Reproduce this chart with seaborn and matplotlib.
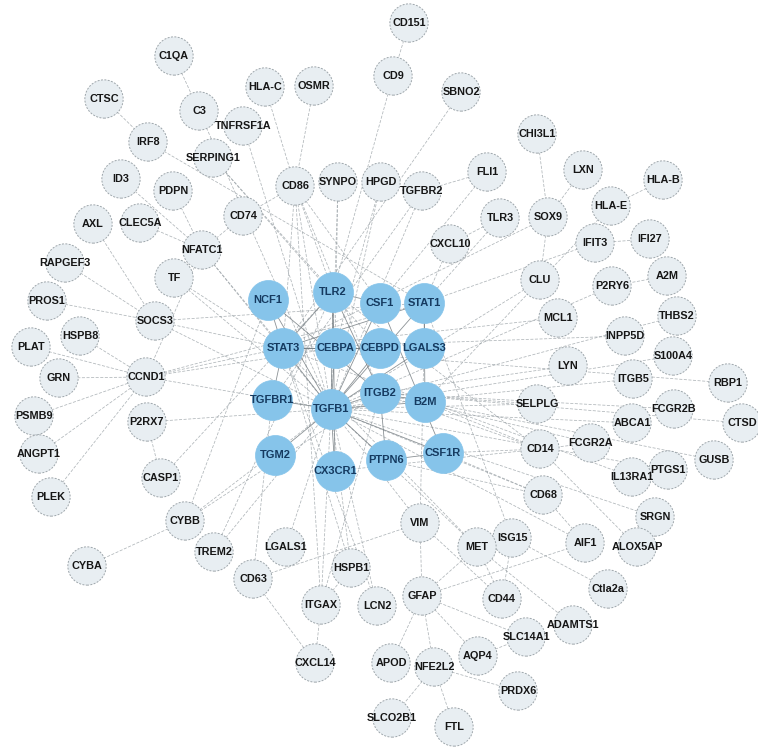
import pandas as pd
import matplotlib.pyplot as plt
import seaborn as sns
from matplotlib.collections import LineCollection

# hub genes (blue) and their layout positions (pixel space)
hub_names = ['NCF1', 'TLR2', 'CSF1', 'STAT1', 'STAT3', 'CEBPA', 'CEBPD', 'LGALS3',
             'TGFBR1', 'TGFB1', 'ITGB2', 'B2M', 'TGM2', 'CX3CR1', 'PTPN6', 'CSF1R']
hub_x = [268, 333, 380, 424, 283, 335, 380, 424, 272, 331, 380, 425, 275, 335, 386, 443]
hub_y = [300, 292, 303, 303, 348, 348, 348, 348, 400, 409, 393, 402, 455, 471, 460, 453]

# other genes (grey)
gene_names = ['CD151', 'CD9', 'SBNO2', 'C1QA', 'HLA-C', 'OSMR', 'CTSC', 'C3', 'TNFRSF1A',
              'IRF8', 'SERPING1', 'CD86', 'SYNPO', 'HPGD', 'TGFBR2', 'FLI1', 'CHI3L1', 'LXN',
              'HLA-B', 'HLA-E', 'ID3', 'PDPN', 'CD74', 'AXL', 'CLEC5A', 'NFATC1', 'SOX9',
              'TLR3', 'CXCL10', 'IFIT3', 'IFI27', 'RAPGEF3', 'TF', 'PROS1', 'SOCS3', 'HSPB8',
              'PLAT', 'GRN', 'CCND1', 'PSMB9', 'P2RX7', 'ANGPT1', 'CASP1', 'PLEK', 'CLU',
              'P2RY6', 'A2M', 'MCL1', 'THBS2', 'INPP5D', 'S100A4', 'LYN', 'ITGB5', 'RBP1',
              'SELPLG', 'FCGR2B', 'ABCA1', 'CTSD', 'CD14', 'FCGR2A', 'GUSB', 'PTGS1',
              'IL13RA1', 'CD68', 'SRGN', 'ALOX5AP', 'AIF1', 'ISG15', 'MET', 'VIM', 'Ctla2a',
              'CD44', 'GFAP', 'ADAMTS1', 'SLC14A1', 'AQP4', 'NFE2L2', 'APOD', 'PRDX6',
              'SLCO2B1', 'FTL', 'CYBB', 'CYBA', 'TREM2', 'LGALS1', 'CD63', 'HSPB1', 'ITGAX',
              'LCN2', 'CXCL14']
gene_x = [409, 393, 461, 174, 265, 314, 104, 199, 243,
          148, 213, 295, 338, 381, 422, 487, 537, 583,
          663, 611, 121, 173, 243, 93, 140, 202, 548,
          500, 450, 595, 650, 65, 174, 47, 155, 80,
          31, 59, 146, 34, 147, 39, 161, 51, 540,
          612, 667, 558, 677, 625, 673, 568, 633, 728,
          537, 674, 632, 742, 540, 591, 714, 668,
          632, 543, 655, 637, 585, 512, 477, 420, 608,
          502, 422, 573, 526, 478, 434, 391, 518,
          392, 454, 185, 87, 214, 286, 253, 351, 321,
          377, 315]
gene_y = [23, 76, 92, 56, 87, 86, 99, 111, 126,
          142, 158, 186, 182, 182, 191, 172, 134, 170,
          180, 206, 179, 191, 216, 224, 223, 250, 217,
          218, 244, 243, 239, 263, 278, 301, 321, 336,
          347, 378, 377, 416, 422, 454, 478, 497, 280,
          286, 276, 318, 316, 336, 356, 366, 379, 383,
          404, 409, 423, 423, 449, 443, 460, 470,
          477, 495, 517, 547, 543, 538, 547, 523, 589,
          599, 596, 625, 637, 656, 667, 663, 691,
          718, 727, 521, 566, 552, 547, 579, 568, 605,
          606, 663]

# interactions
hub_edges = [
    ('TGFB1', 'NCF1'), ('TGFB1', 'TLR2'), ('TGFB1', 'CSF1'), ('TGFB1', 'STAT1'),
    ('TGFB1', 'STAT3'), ('TGFB1', 'CEBPA'), ('TGFB1', 'CEBPD'), ('TGFB1', 'LGALS3'),
    ('TGFB1', 'TGFBR1'), ('TGFB1', 'ITGB2'), ('TGFB1', 'B2M'), ('TGFB1', 'TGM2'),
    ('TGFB1', 'CX3CR1'), ('TGFB1', 'PTPN6'), ('TGFB1', 'CSF1R'), ('STAT3', 'STAT1'),
    ('STAT3', 'CEBPA'), ('CEBPA', 'CEBPD'), ('TLR2', 'CSF1'), ('CSF1', 'CSF1R'),
    ('ITGB2', 'B2M'), ('NCF1', 'ITGB2'), ('NCF1', 'STAT3'), ('PTPN6', 'CSF1R'),
    ('TLR2', 'STAT3'), ('TLR2', 'ITGB2'), ('STAT1', 'LGALS3'), ('TGFBR1', 'STAT3'),
    ('CEBPD', 'STAT3'), ('TLR2', 'CX3CR1'), ('ITGB2', 'PTPN6'), ('STAT1', 'B2M'),
]
gene_edges = [
    ('CD151', 'CD9'), ('CD9', 'TLR2'), ('SBNO2', 'STAT3'), ('C1QA', 'C3'), ('C3', 'TGFB1'),
    ('CTSC', 'IRF8'), ('IRF8', 'STAT1'), ('HLA-C', 'CD86'), ('OSMR', 'CD86'),
    ('TNFRSF1A', 'TGFB1'), ('SERPING1', 'CEBPD'), ('SERPING1', 'TLR2'), ('CD86', 'CD74'),
    ('CD86', 'TLR2'), ('CD86', 'STAT3'), ('CD86', 'TGFB1'), ('CD86', 'ITGB2'),
    ('CD86', 'CSF1'), ('CD86', 'ITGAX'), ('SYNPO', 'TGFB1'), ('SYNPO', 'CEBPA'),
    ('HPGD', 'CEBPA'), ('HPGD', 'TGFB1'), ('TGFBR2', 'TGFB1'), ('TGFBR2', 'TGFBR1'),
    ('TGFBR2', 'FLI1'), ('FLI1', 'CSF1'), ('CHI3L1', 'SOX9'), ('LXN', 'SOX9'),
    ('HLA-B', 'HLA-E'), ('HLA-E', 'B2M'), ('SOX9', 'STAT3'), ('SOX9', 'CLU'),
    ('TLR3', 'STAT1'), ('TLR3', 'CXCL10'), ('CXCL10', 'STAT1'), ('IFIT3', 'IFI27'),
    ('IFIT3', 'STAT1'), ('ID3', 'NFATC1'), ('PDPN', 'NFATC1'), ('CLEC5A', 'NFATC1'),
    ('AXL', 'SOCS3'), ('NFATC1', 'CD74'), ('NFATC1', 'TGFB1'), ('NFATC1', 'CCND1'),
    ('NFATC1', 'STAT3'), ('RAPGEF3', 'SOCS3'), ('PROS1', 'SOCS3'), ('TF', 'TGFB1'),
    ('TF', 'STAT3'), ('SOCS3', 'STAT3'), ('SOCS3', 'STAT1'), ('SOCS3', 'TGFB1'),
    ('HSPB8', 'CCND1'), ('PLAT', 'CCND1'), ('GRN', 'CCND1'), ('PSMB9', 'CCND1'),
    ('ANGPT1', 'CCND1'), ('PLEK', 'CCND1'), ('CCND1', 'STAT3'), ('CCND1', 'TGFB1'),
    ('CCND1', 'CEBPA'), ('CCND1', 'STAT1'), ('P2RX7', 'CASP1'), ('P2RX7', 'TGFB1'),
    ('CASP1', 'TLR2'), ('CYBB', 'CYBA'), ('CYBB', 'NCF1'), ('CYBB', 'TGFB1'),
    ('CYBB', 'ITGB2'), ('TREM2', 'TGFB1'), ('TREM2', 'TLR2'), ('LGALS1', 'TGFB1'),
    ('CD63', 'CXCL14'), ('CD63', 'VIM'), ('CD63', 'TGFBR1'), ('ITGAX', 'CXCL14'),
    ('ITGAX', 'HSPB1'), ('ITGAX', 'TGFB1'), ('ITGAX', 'ITGB2'), ('HSPB1', 'TGFB1'),
    ('HSPB1', 'STAT3'), ('LCN2', 'TGFB1'), ('LCN2', 'STAT3'), ('VIM', 'GFAP'),
    ('VIM', 'CD44'), ('VIM', 'TGFB1'), ('VIM', 'LGALS3'), ('GFAP', 'APOD'),
    ('GFAP', 'NFE2L2'), ('GFAP', 'AQP4'), ('GFAP', 'SLC14A1'), ('GFAP', 'MET'),
    ('GFAP', 'AIF1'), ('NFE2L2', 'SLCO2B1'), ('NFE2L2', 'FTL'), ('NFE2L2', 'PRDX6'),
    ('AQP4', 'SLC14A1'), ('MET', 'CD44'), ('MET', 'ADAMTS1'), ('MET', 'TGFB1'),
    ('MET', 'STAT3'), ('ISG15', 'STAT1'), ('ISG15', 'Ctla2a'), ('ISG15', 'CD44'),
    ('AIF1', 'TGFB1'), ('AIF1', 'CD68'), ('ALOX5AP', 'CD14'), ('SRGN', 'TGFB1'),
    ('CD68', 'CSF1R'), ('CD68', 'TGFB1'), ('CD14', 'TLR2'), ('CD14', 'CSF1R'),
    ('CD14', 'ITGB2'), ('CD14', 'B2M'), ('FCGR2A', 'ITGB2'), ('FCGR2A', 'CD14'),
    ('IL13RA1', 'STAT3'), ('PTGS1', 'TGFB1'), ('GUSB', 'B2M'), ('CTSD', 'ITGB2'),
    ('RBP1', 'STAT3'), ('ITGB5', 'TGFB1'), ('FCGR2B', 'ITGB2'), ('ABCA1', 'TGFB1'),
    ('S100A4', 'TGFB1'), ('INPP5D', 'STAT3'), ('THBS2', 'TGFB1'), ('A2M', 'P2RY6'),
    ('P2RY6', 'TGFB1'), ('MCL1', 'STAT3'), ('CLU', 'TGFB1'), ('LYN', 'ITGB2'),
    ('SELPLG', 'ITGB2'), ('SELPLG', 'TGFB1'), ('CX3CR1', 'CD14'), ('PTPN6', 'CD68'),
]

nodes = pd.concat([
    pd.DataFrame({'name': hub_names, 'x': hub_x, 'y': hub_y, 'kind': 'hub'}),
    pd.DataFrame({'name': gene_names, 'x': gene_x, 'y': gene_y, 'kind': 'gene'}),
], ignore_index=True)
pos = dict(zip(nodes['name'], zip(nodes['x'], nodes['y'])))

fig = plt.figure(figsize=(7.58, 7.49), dpi=100)
ax = fig.add_axes([0, 0, 1, 1])
ax.set_xlim(0, 758)
ax.set_ylim(749, 0)
ax.axis('off')

# edges
ax.add_collection(LineCollection([[pos[a], pos[b]] for a, b in gene_edges],
                                 colors='#959da2', linewidths=0.55,
                                 linestyles=(0, (4, 2)), alpha=0.75, zorder=1))
ax.add_collection(LineCollection([[pos[a], pos[b]] for a, b in hub_edges],
                                 colors='#6f777c', linewidths=0.6, alpha=0.8, zorder=1))

# nodes
genes = nodes[nodes['kind'] == 'gene']
hubs = nodes[nodes['kind'] == 'hub']
sns.scatterplot(data=genes, x='x', y='y', s=760, color='#e8eef2', edgecolor='#9ea6ab',
                linewidth=0.7, linestyle=(0, (2, 1.5)), ax=ax, zorder=2, legend=False)
sns.scatterplot(data=hubs, x='x', y='y', s=830, color='#86c4ea', edgecolor='#86c4ea',
                linewidth=0.5, ax=ax, zorder=3, legend=False)
ax.set_xlim(0, 758)
ax.set_ylim(749, 0)

for r in genes.itertuples():
    ax.text(r.x, r.y, r.name, ha='center', va='center', fontsize=7.8, fontweight='bold',
            family='Liberation Sans', color='#161616', zorder=4)
for r in hubs.itertuples():
    ax.text(r.x, r.y, r.name, ha='center', va='center', fontsize=8, fontweight='bold',
            family='Liberation Sans', color='#153a60', zorder=4)

plt.savefig('out.png', dpi=100, facecolor='white')
